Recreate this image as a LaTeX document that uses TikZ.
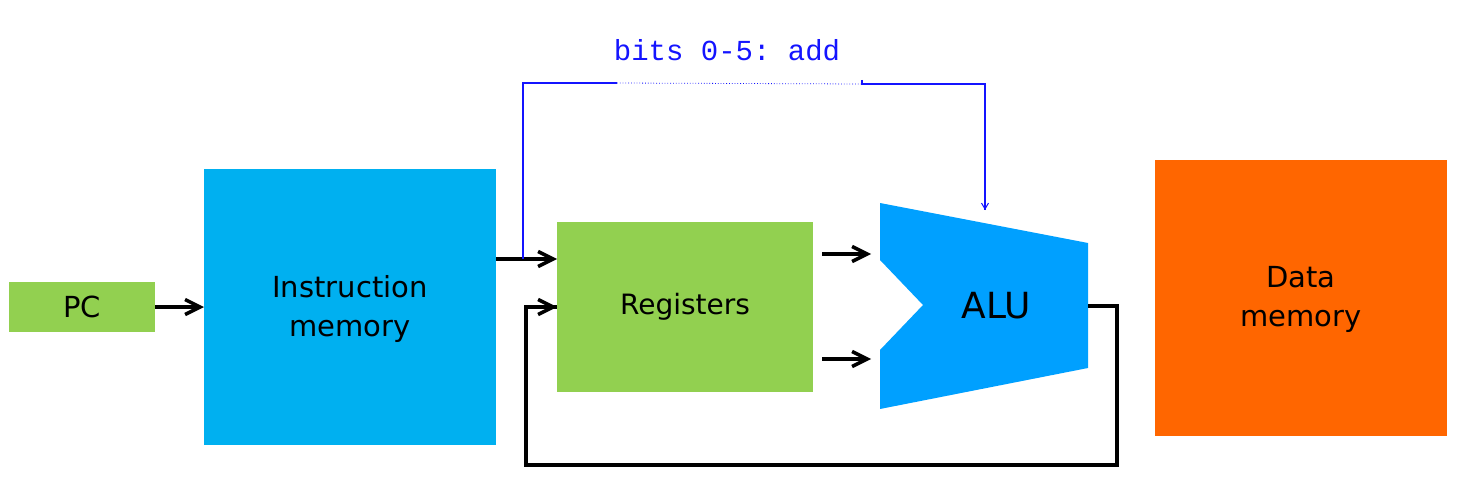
\documentclass[tikz,border=0pt]{standalone}
\usepackage{fontspec}
\setmainfont{DejaVu Sans}
\setmonofont{Liberation Mono}
\usetikzlibrary{arrows.meta}
\definecolor{pcgreen}{RGB}{146,208,80}
\definecolor{imblue}{RGB}{0,176,240}
\definecolor{alublue}{RGB}{0,160,255}
\definecolor{dmorange}{RGB}{255,102,0}
\definecolor{ctlblue}{RGB}{20,20,255}
\tikzset{
  blk/.style={draw=none,inner sep=0pt,align=center,font=\fontsize{29}{39}\selectfont},
  wire/.style={line width=3.5pt,-{Straight Barb[length=15pt,width=15pt,line width=3.5pt]}},
  fb/.style={line width=3.5pt},
  ctl/.style={ctlblue,line width=1.4pt},
}
\begin{document}
\begin{tikzpicture}[x=1pt,y=-1pt]
\useasboundingbox (0,0) rectangle (1460,487);
% blocks
\fill[pcgreen] (9,282) rectangle (155,332);
\node[blk] (pc) at (82,307) {PC};
\coordinate (pcE) at (155,307);
\fill[imblue] (204,169) rectangle (496,445);
\node[blk] (im) at (350,309) {Instruction\\memory};
\coordinate (imW) at (204,307);
\coordinate (imE) at (496,259);
\fill[pcgreen] (557,222) rectangle (813,392);
\node[blk,font=\fontsize{28}{39}\selectfont] (reg) at (685,307) {Registers};
\coordinate (regA) at (557,259);
\coordinate (regB) at (557,307);
\fill[alublue] (880,203) -- (1088,243) -- (1088,368) -- (880,409) -- (880,350) -- (923,305) -- (880,260) -- cycle;
\node[blk,font=\fontsize{36}{44}\selectfont] (alu) at (996,306) {ALU};
\coordinate (aluOut) at (1088,306);
\coordinate (aluTop) at (985,210);
\fill[dmorange] (1155,160) rectangle (1447,436);
\node[blk] (dm) at (1301,299) {Data\\memory};
% arrows
\draw[wire] (pcE) -- (imW);
\draw[wire] (imE) -- (regA);
\coordinate (r1s) at (822,254); \coordinate (r1e) at (871,254);
\coordinate (r2s) at (822,359); \coordinate (r2e) at (871,359);
\draw[wire] (r1s) -- (r1e);
\draw[wire] (r2s) -- (r2e);
\coordinate (c1) at (1117,306);
\coordinate (c2) at (1117,465);
\coordinate (c3) at (526,465);
\coordinate (c4) at (526,307);
\draw[fb,line join=miter] (aluOut) -- (c1) -- (c2) -- (c3) -- (c4) -- (regB);
\draw[wire] (c4) -- (regB);
% control line
\coordinate (b0) at (523,259);
\coordinate (b1) at (523,83);
\coordinate (b2) at (617,83);
\coordinate (b3) at (862,84);
\coordinate (b4) at (985,84);
\draw[ctl] (b0) -- (b1) -- (b2);
\draw[ctlblue,line width=0.8pt,dotted] (b2) -- (b3);
\draw[ctl] (862,80) -- (b3) -- (b4) -- (aluTop);
\draw[ctl,-{Straight Barb[length=6pt,width=7pt,line width=1pt]}] (985,190) -- (aluTop);
\node[ctlblue,inner sep=0pt,font=\fontsize{29}{32}\ttfamily] (lbl) at (727,50) {bits 0-5: add};
\end{tikzpicture}
\end{document}
